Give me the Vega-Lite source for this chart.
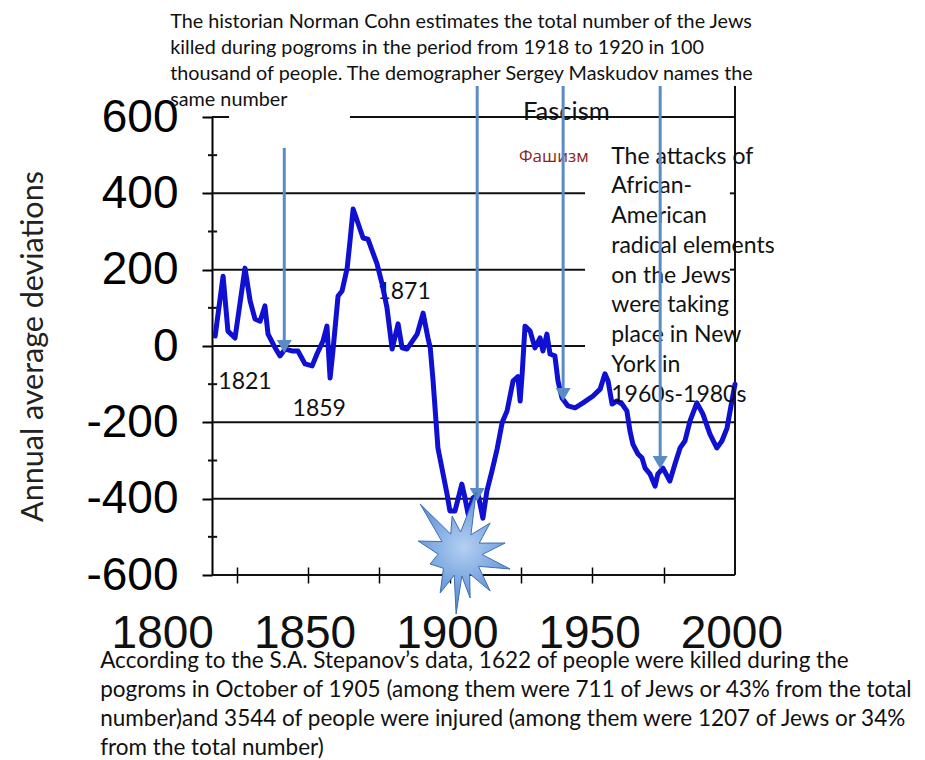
{
  "$schema": "https://vega.github.io/schema/vega-lite/v6.json",
  "width": 523,
  "height": 458,
  "autosize": {"type": "none"},
  "padding": {"left": 212, "top": 117, "right": 190, "bottom": 185},
  "background": "white",
  "config": {"view": {"stroke": null}},
  "datasets": {
    "series": [
      {"x": 1818.4, "y": 26}, {"x": 1821.2, "y": 183}, {"x": 1822.9, "y": 39}, {"x": 1825.4, "y": 21},
      {"x": 1828.9, "y": 204}, {"x": 1830.7, "y": 118}, {"x": 1832.4, "y": 71}, {"x": 1834.2, "y": 65},
      {"x": 1835.9, "y": 105}, {"x": 1837.0, "y": 31}, {"x": 1839.5, "y": -5}, {"x": 1841.2, "y": -26},
      {"x": 1843.0, "y": -8}, {"x": 1845.4, "y": -13}, {"x": 1847.5, "y": -13}, {"x": 1850.0, "y": -47},
      {"x": 1852.5, "y": -52}, {"x": 1854.2, "y": -21}, {"x": 1856.3, "y": 13}, {"x": 1857.7, "y": 52},
      {"x": 1858.8, "y": -84}, {"x": 1859.8, "y": -13}, {"x": 1861.6, "y": 131}, {"x": 1863.0, "y": 144},
      {"x": 1864.8, "y": 204}, {"x": 1865.8, "y": 275}, {"x": 1866.9, "y": 359}, {"x": 1870.4, "y": 283},
      {"x": 1872.1, "y": 280}, {"x": 1875.3, "y": 215}, {"x": 1877.1, "y": 162}, {"x": 1878.8, "y": 100},
      {"x": 1880.6, "y": -8}, {"x": 1882.7, "y": 58}, {"x": 1884.1, "y": -5}, {"x": 1885.8, "y": -8},
      {"x": 1889.4, "y": 31}, {"x": 1891.5, "y": 86}, {"x": 1893.2, "y": 21}, {"x": 1894.0, "y": -5},
      {"x": 1895.0, "y": -92}, {"x": 1896.7, "y": -267}, {"x": 1898.1, "y": -320}, {"x": 1899.9, "y": -388},
      {"x": 1900.9, "y": -432}, {"x": 1902.7, "y": -432}, {"x": 1905.1, "y": -362}, {"x": 1906.2, "y": -398},
      {"x": 1907.3, "y": -440}, {"x": 1909.0, "y": -398}, {"x": 1910.8, "y": -388}, {"x": 1912.5, "y": -451},
      {"x": 1913.9, "y": -380}, {"x": 1915.7, "y": -327}, {"x": 1917.5, "y": -270}, {"x": 1919.3, "y": -200},
      {"x": 1921.0, "y": -170}, {"x": 1923.1, "y": -92}, {"x": 1924.8, "y": -80}, {"x": 1925.6, "y": -144},
      {"x": 1926.3, "y": -73}, {"x": 1927.3, "y": 52}, {"x": 1929.1, "y": 39}, {"x": 1930.8, "y": -5},
      {"x": 1932.6, "y": 21}, {"x": 1933.6, "y": -13}, {"x": 1935.0, "y": 31}, {"x": 1936.1, "y": -21},
      {"x": 1937.8, "y": -26}, {"x": 1938.9, "y": -92}, {"x": 1940.3, "y": -136}, {"x": 1942.4, "y": -157},
      {"x": 1944.9, "y": -162}, {"x": 1947.7, "y": -149}, {"x": 1951.2, "y": -131}, {"x": 1953.7, "y": -113},
      {"x": 1955.4, "y": -73}, {"x": 1956.5, "y": -92}, {"x": 1957.9, "y": -152}, {"x": 1959.6, "y": -144},
      {"x": 1961.4, "y": -152}, {"x": 1963.1, "y": -170}, {"x": 1964.2, "y": -223}, {"x": 1965.2, "y": -257},
      {"x": 1967.0, "y": -283}, {"x": 1968.4, "y": -293}, {"x": 1969.5, "y": -320}, {"x": 1971.2, "y": -335},
      {"x": 1973.0, "y": -367}, {"x": 1974.0, "y": -335}, {"x": 1975.8, "y": -320}, {"x": 1978.2, "y": -354},
      {"x": 1980.0, "y": -309}, {"x": 1981.8, "y": -267}, {"x": 1983.5, "y": -249}, {"x": 1985.3, "y": -196},
      {"x": 1987.7, "y": -149}, {"x": 1989.8, "y": -178}, {"x": 1992.3, "y": -231}, {"x": 1994.7, "y": -267},
      {"x": 1996.5, "y": -249}, {"x": 1998.3, "y": -215}, {"x": 2000.0, "y": -144}, {"x": 2001.1, "y": -100}
    ],
    "grid": [
      {"y": 600, "x": 1817.3, "x2": 1823.3},
      {"y": 600, "x": 1865.8, "x2": 2001.1},
      {"y": 400, "x": 1817.3, "x2": 1948.4},
      {"y": 400, "x": 1999.3, "x2": 2001.1},
      {"y": 200, "x": 1817.3, "x2": 1948.4},
      {"y": 200, "x": 1999.3, "x2": 2001.1},
      {"y": 0, "x": 1817.3, "x2": 1948.4},
      {"y": -200, "x": 1817.3, "x2": 2001.1},
      {"y": -400, "x": 1817.3, "x2": 2001.1},
      {"y": -600, "x": 1817.3, "x2": 2001.1},
      {"y": 500, "x": 1815.9, "x2": 1819.1},
      {"y": 300, "x": 1815.9, "x2": 1819.1},
      {"y": 100, "x": 1815.9, "x2": 1819.1},
      {"y": -100, "x": 1815.9, "x2": 1819.1},
      {"y": -300, "x": 1815.9, "x2": 1819.1},
      {"y": -500, "x": 1815.9, "x2": 1819.1}
    ],
    "border": [{"x": 2001.1, "y": -600, "y2": 681}],
    "arrows": [
      {"x": 1842.7, "y": 519, "y2": -1},
      {"x": 1910.5, "y": 681, "y2": -389},
      {"x": 1940.7, "y": 681, "y2": -127},
      {"x": 1974.8, "y": 681, "y2": -305}
    ],
    "heads": [
      {"x": 1842.7, "y": -1},
      {"x": 1910.5, "y": -389},
      {"x": 1940.7, "y": -127},
      {"x": 1974.8, "y": -305}
    ],
    "star": [{"x": 1904.5, "y": -545}],
    "topText": [{"x": 1802.6, "y": 834, "t": "The historian Norman Cohn estimates the total number of the Jews\nkilled during pogroms in the period from 1918 to 1920 in 100\nthousand of people. The demographer Sergey Maskudov names the\nsame number"}],
    "bottomText": [{"x": 1778.0, "y": -843, "t": "According to the S.A. Stepanov’s data, 1622 of people were killed during the\npogroms in October of 1905  (among them were 711 of Jews or 43% from the total\nnumber)and 3544 of people were injured (among them were 1207 of Jews or 34%\nfrom the total number)"}],
    "rightText": [{"x": 1957.6, "y": 478, "t": "The attacks of\nAfrican-\nAmerican\nradical elements\non the Jews\nwere taking\nplace in New\nYork in\n1960s-1980s"}],
    "fascism": [{"x": 1926.6, "y": 592, "t": "Fascism"}],
    "fascismRu": [{"x": 1925.2, "y": 482, "t": "Фашизм"}],
    "years": [
      {"x": 1828.9, "y": -113, "t": "1821"},
      {"x": 1855.0, "y": -183, "t": "1859"},
      {"x": 1884.8, "y": 123, "t": "1871"}
    ],
    "xlabels": [
      {"x": 1800, "y": -791, "t": "1800"},
      {"x": 1850, "y": -791, "t": "1850"},
      {"x": 1900, "y": -791, "t": "1900"},
      {"x": 1950, "y": -791, "t": "1950"},
      {"x": 2000, "y": -791, "t": "2000"}
    ]
  },
  "encoding": {
    "x": {
      "field": "x", "type": "quantitative",
      "scale": {"domain": [1817.3, 2001.1], "nice": false, "zero": false},
      "axis": {
        "values": [1826, 1851, 1876, 1901, 1926, 1951, 1976],
        "labels": false, "domain": false, "grid": false, "title": null,
        "tickSize": 16, "offset": -8, "tickColor": "black", "tickWidth": 1.5
      }
    },
    "y": {
      "field": "y", "type": "quantitative",
      "scale": {"domain": [-600, 600], "nice": false, "zero": false},
      "axis": {
        "values": [-600, -400, -200, 0, 200, 400, 600],
        "labelExpr": "'' + datum.value",
        "grid": false, "tickSize": 10, "tickColor": "black", "tickWidth": 2,
        "domainColor": "black", "domainWidth": 2,
        "labelFont": "Liberation Sans", "labelFontSize": 46, "labelColor": "black",
        "labelPadding": 24, "labelOverlap": false,
        "title": "Annual average deviations",
        "titleFont": "Lato", "titleFontSize": 30.5, "titleFontWeight": "normal", "titleColor": "#222222",
        "titleX": -179, "titleY": 229, "titleAngle": 270, "titleAlign": "center", "titleBaseline": "middle"
      }
    }
  },
  "layer": [
    {
      "data": {"name": "grid"},
      "mark": {"type": "rule", "color": "#111111", "strokeWidth": 2},
      "encoding": {"x2": {"field": "x2"}}
    },
    {
      "data": {"name": "border"},
      "mark": {"type": "rule", "color": "#111111", "strokeWidth": 2},
      "encoding": {"y2": {"field": "y2"}}
    },
    {
      "data": {"name": "topText"},
      "mark": {"type": "text", "align": "left", "baseline": "alphabetic", "font": "Lato", "fontSize": 19.8, "lineHeight": 26, "lineBreak": "\n", "color": "#111111"},
      "encoding": {"text": {"field": "t"}}
    },
    {
      "data": {"name": "fascism"},
      "mark": {"type": "text", "align": "left", "baseline": "alphabetic", "font": "Lato", "fontSize": 25.5, "color": "#111111"},
      "encoding": {"text": {"field": "t"}}
    },
    {
      "data": {"name": "fascismRu"},
      "mark": {"type": "text", "align": "left", "baseline": "alphabetic", "font": "Open Sans", "fontSize": 17, "color": "#8b2323"},
      "encoding": {"text": {"field": "t"}}
    },
    {
      "data": {"name": "years"},
      "mark": {"type": "text", "align": "center", "baseline": "alphabetic", "font": "Lato", "fontSize": 23, "color": "#111111"},
      "encoding": {"text": {"field": "t"}}
    },
    {
      "data": {"name": "series"},
      "mark": {"type": "line", "color": "#1010d2", "strokeWidth": 5, "strokeJoin": "round", "strokeCap": "round"}
    },
    {
      "data": {"name": "rightText"},
      "mark": {"type": "text", "align": "left", "baseline": "alphabetic", "font": "Lato", "fontSize": 23, "lineHeight": 29.75, "lineBreak": "\n", "color": "#111111"},
      "encoding": {"text": {"field": "t"}}
    },
    {
      "data": {"name": "arrows"},
      "mark": {"type": "rule", "color": "#5b8bc5", "strokeWidth": 3},
      "encoding": {"y2": {"field": "y2"}}
    },
    {
      "data": {"name": "heads"},
      "mark": {"type": "point", "shape": "triangle-down", "size": 225, "filled": true, "color": "#5b8bc5", "opacity": 1}
    },
    {
      "data": {"name": "star"},
      "mark": {
        "type": "point", "filled": true, "opacity": 1, "size": 8100,
        "shape": "M -0.889 -1.111 L -0.404 -0.276 L -0.933 -0.289 L -0.489 0.004 L -0.667 0.222 L -0.371 0.318 L -0.444 0.867 L -0.131 0.471 L -0.089 1.333 L 0.038 0.487 L 0.222 0.978 L 0.213 0.44 L 0.667 0.822 L 0.407 0.273 L 1.111 0.333 L 0.489 0.013 L 1 -0.244 L 0.424 -0.242 L 0.667 -0.689 L 0.24 -0.427 L 0.356 -1.378 L 0.011 -0.489 L -0.178 -0.844 L -0.209 -0.442 Z",
        "fill": {"gradient": "radial", "x1": 0.5, "y1": 0.45, "r1": 0, "x2": 0.5, "y2": 0.45, "r2": 0.55,
                 "stops": [{"offset": 0, "color": "#b4d0f3"}, {"offset": 1, "color": "#4a82cf"}]},
        "stroke": "#3f6fb0", "strokeWidth": 1
      }
    },
    {
      "data": {"name": "xlabels"},
      "mark": {"type": "text", "align": "center", "baseline": "alphabetic", "font": "Liberation Sans", "fontSize": 46, "color": "#111111"},
      "encoding": {"text": {"field": "t"}}
    },
    {
      "data": {"name": "bottomText"},
      "mark": {"type": "text", "align": "left", "baseline": "alphabetic", "font": "Lato", "fontSize": 22.5, "lineHeight": 29, "lineBreak": "\n", "color": "#111111"},
      "encoding": {"text": {"field": "t"}}
    }
  ]
}
